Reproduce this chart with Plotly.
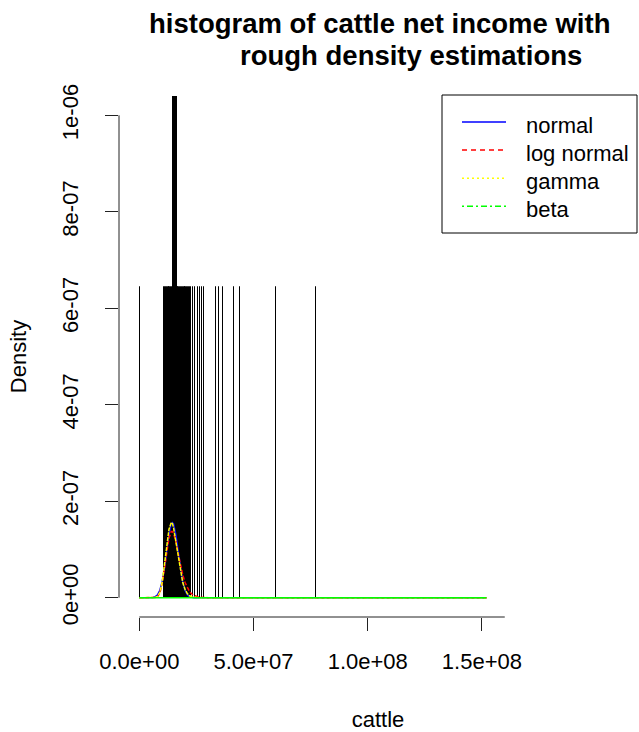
import plotly.graph_objects as go

# ---------------- data ----------------
MILLION = 1e6

# cattle net income observations, in millions (repeated values form the tall spike)
cattle_income_millions = [
    0.1, 11.0, 11.7,
    12.3, 12.8, 13.1, 13.5, 13.9, 14.2,
    14.6, 14.6, 15.1, 15.1, 15.5, 15.5, 15.9, 15.9, 16.3, 16.3,
    16.7, 17.0, 17.4, 17.8, 18.2, 18.6, 19.0, 19.4, 19.8, 20.2,
    20.6, 21.0, 21.4, 21.8, 22.2, 22.6,
    23.5, 24.4, 25.5, 26.4, 27.5, 28.3,
    33.6, 34.9, 36.6, 41.5, 44.1, 59.7, 77.2,
]
# density height of a bin holding a single observation
single_bin_density = 6.44e-7

# rough density estimations (x in millions)
curve_x_millions = [0, 5, 6, 7, 8, 9, 10, 11, 12, 13, 14, 14.5, 15, 16, 17,
                    18, 19, 20, 21, 22, 23, 24, 26, 28, 30, 152]
normal_density = [0, 0, 6e-10, 2.1e-9, 6.2e-9, 1.55e-8, 3.33e-8, 6.1e-8, 9.7e-8,
                  1.31e-7, 1.53e-7, 1.558e-7, 1.53e-7, 1.31e-7, 9.7e-8, 6.1e-8,
                  3.33e-8, 1.55e-8, 6.2e-9, 2.1e-9, 6e-10, 1.6e-10, 0, 0, 0, 0]
lognormal_density = [0, 0, 0, 2.6e-10, 2.2e-9, 1.0e-8, 2.92e-8, 6.0e-8, 9.6e-8,
                     1.24e-7, 1.37e-7, 1.37e-7, 1.33e-7, 1.16e-7, 9.2e-8, 6.9e-8,
                     4.8e-8, 3.2e-8, 2.05e-8, 1.27e-8, 7.6e-9, 4.5e-9, 1.45e-9,
                     4.4e-10, 1.2e-10, 0]
gamma_density = [0, 0, 0, 3.7e-10, 2.6e-9, 1.09e-8, 3.15e-8, 6.6e-8, 1.08e-7,
                 1.42e-7, 1.56e-7, 1.54e-7, 1.45e-7, 1.18e-7, 8.5e-8, 5.5e-8,
                 3.2e-8, 1.75e-8, 8.7e-9, 4.0e-9, 1.8e-9, 7.3e-10, 1e-10, 0, 0, 0]
beta_x_millions = [0, 152]
beta_density = [0, 0]

x_tick_values = [0, 5e7, 1e8, 1.5e8]
x_tick_labels = ["0.0e+00", "5.0e+07", "1.0e+08", "1.5e+08"]
y_tick_values = [0, 2e-7, 4e-7, 6e-7, 8e-7, 1e-6]
y_tick_labels = ["0e+00", "2e-07", "4e-07", "6e-07", "8e-07", "1e-06"]

legend_names = ["normal", "log normal", "gamma", "beta"]
legend_colors = ["#0000FF", "#FF0000", "#FFFF00", "#00FF00"]
legend_dashes = ["solid", "5px,4px", "2px,3px", "2px,3px,6px,3px"]

title_line1 = "histogram of cattle net income with"
title_line2 = "rough density estimations"

# ---------------- figure ----------------
FONT = "Liberation Sans, Arial, sans-serif"
W, H = 639, 732
ML, MR, MT, MB = 119, 2, 96, 115
PW, PH = W - ML - MR, H - MT - MB
X_RANGE = [-8.89e6, 2.179e8]
Y_RANGE = [-4.0e-8, 1.04e-6]
X_AXIS_LINE_END = 1.6e8


def px_x(p):  # page pixel -> paper x
    return (p - ML) / PW


def px_y(p):  # page pixel -> paper y
    return (H - MB - p) / PH


obs = [v * MILLION for v in cattle_income_millions]
bin_size = 1.0 / (len(obs) * single_bin_density)

fig = go.Figure()
fig.add_trace(go.Histogram(
    x=obs, histnorm="probability density",
    xbins=dict(start=0, end=80e6, size=bin_size),
    marker=dict(color="rgba(0,0,0,0)", line=dict(color="black", width=1)),
    showlegend=False, hoverinfo="skip",
))

cx = [v * MILLION for v in curve_x_millions]
curve_sets = [
    (cx, normal_density, "solid"),
    (cx, lognormal_density, "4px,2px"),
    (cx, gamma_density, "4px,1px"),
    ([v * MILLION for v in beta_x_millions], beta_density, "solid"),
]
for (xs, ys, dash), name, col in zip(curve_sets, legend_names, legend_colors):
    fig.add_trace(go.Scatter(x=xs, y=ys, mode="lines", name=name, showlegend=False,
                             line=dict(color=col, width=1.5, dash=dash)))

axis_col = "#222222"
# axis lines as in R (spanning the tick range)
fig.add_shape(type="line", xref="x", yref="paper", x0=x_tick_values[0], x1=X_AXIS_LINE_END,
              y0=0, y1=0, line=dict(color=axis_col, width=1))
fig.add_shape(type="line", xref="paper", yref="y", x0=0, x1=0,
              y0=y_tick_values[0], y1=y_tick_values[-1], line=dict(color=axis_col, width=1))

# legend box (R style)
fig.add_shape(type="rect", xref="paper", yref="paper",
              x0=px_x(442), x1=px_x(637), y0=px_y(233), y1=px_y(95),
              line=dict(color="black", width=1), fillcolor="white", layer="above")
for i, (name, col, dash) in enumerate(zip(legend_names, legend_colors, legend_dashes)):
    row_y = 122 + 28.1 * i
    fig.add_shape(type="line", xref="paper", yref="paper",
                  x0=px_x(462), x1=px_x(506), y0=px_y(row_y), y1=px_y(row_y),
                  line=dict(color=col, width=1.5, dash=dash), layer="above")
    fig.add_annotation(text=name, xref="paper", yref="paper", x=px_x(524), y=px_y(row_y + 3),
                       xanchor="left", yanchor="middle", showarrow=False,
                       font=dict(family=FONT, size=22, color="black"))

fig.add_annotation(text=title_line1, xref="paper", yref="paper",
                   x=px_x(379), y=px_y(23), xanchor="center", yanchor="middle",
                   showarrow=False, font=dict(family=FONT, size=27.5, color="black", weight="bold"))
fig.add_annotation(text=title_line2, xref="paper", yref="paper",
                   x=px_x(411), y=px_y(55), xanchor="center", yanchor="middle",
                   showarrow=False, font=dict(family=FONT, size=27.5, color="black", weight="bold"))

fig.update_layout(
    width=W, height=H,
    margin=dict(l=ML, r=MR, t=MT, b=MB, autoexpand=False),
    paper_bgcolor="white", plot_bgcolor="white",
    font=dict(family=FONT, size=22, color="black"),
    bargap=0, showlegend=False,
    xaxis=dict(range=X_RANGE, showgrid=False, zeroline=False, showline=False,
               tickmode="array", tickvals=x_tick_values, ticktext=x_tick_labels,
               ticks="outside", ticklen=13, tickwidth=1, tickcolor=axis_col,
               ticklabelstandoff=12, tickfont=dict(size=22, color="black"),
               title=dict(text="cattle", font=dict(size=22, color="black"), standoff=38),
               automargin=False),
    yaxis=dict(range=Y_RANGE, showgrid=False, zeroline=False, showline=False,
               tickmode="array", tickvals=y_tick_values, ticktext=y_tick_labels,
               ticks="outside", ticklen=13, tickwidth=1, tickcolor=axis_col,
               tickangle=-90, ticklabelstandoff=18, tickfont=dict(size=22, color="black"),
               title=dict(text="Density", font=dict(size=22, color="black"), standoff=25),
               automargin=False),
)

fig.write_html("out.html", config={"displayModeBar": False},
               post_script="document.body.style.margin='0';")
